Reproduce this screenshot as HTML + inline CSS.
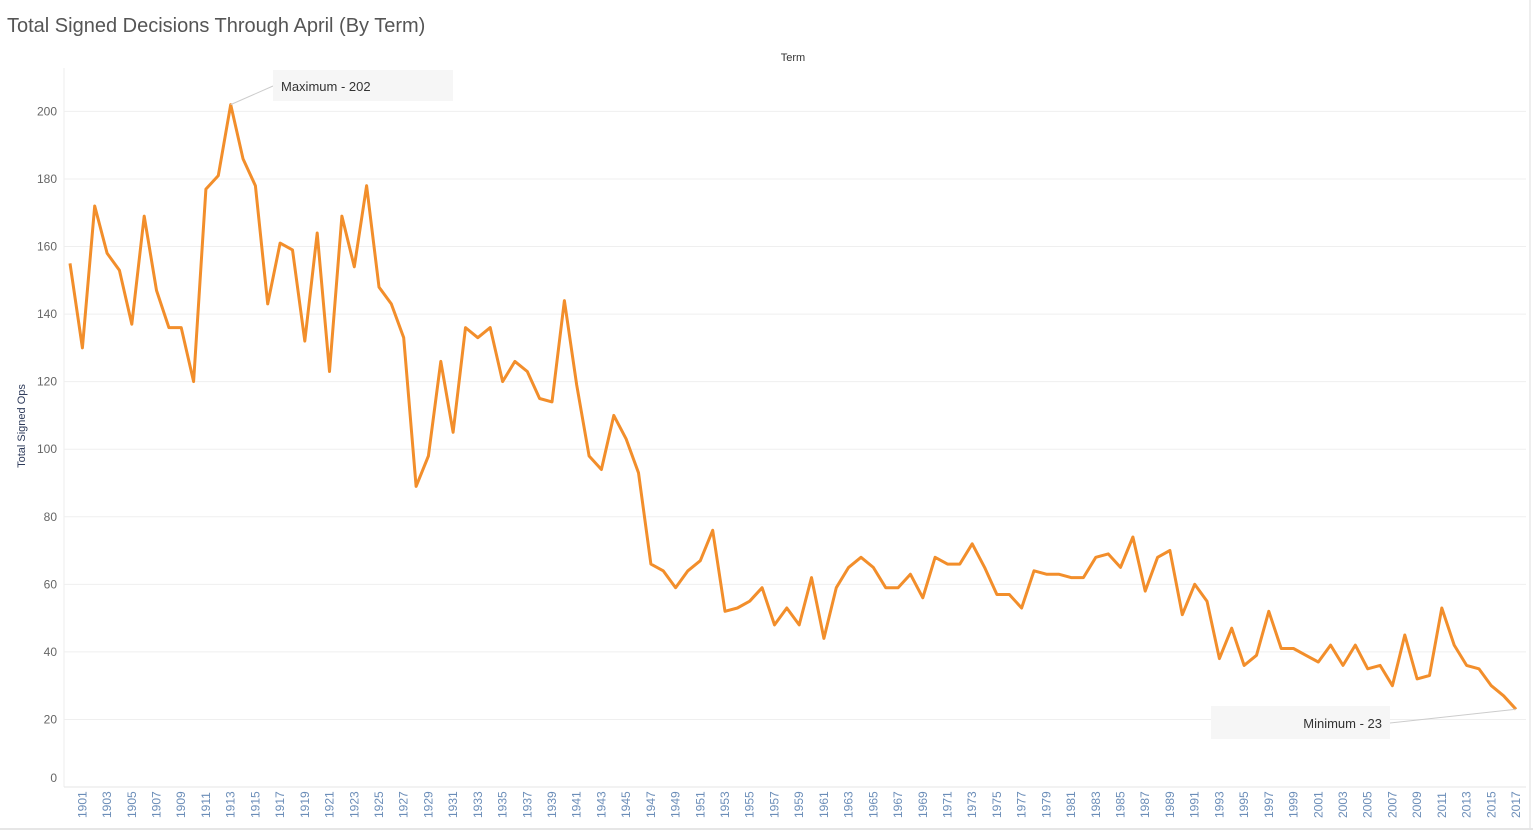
<!DOCTYPE html>
<html><head><meta charset="utf-8"><style>
body{margin:0;background:#fff;font-family:"Liberation Sans",sans-serif;}
#wrap{position:relative;width:1533px;height:831px;overflow:hidden;}
</style></head><body>
<div id="wrap">
<svg id="chart" width="1533" height="831" xmlns="http://www.w3.org/2000/svg">
<text x="7" y="32" font-size="20" fill="#555" font-family="Liberation Sans, sans-serif">Total Signed Decisions Through April (By Term)</text>
<text x="793" y="61" font-size="11" fill="#333" text-anchor="middle">Term</text>
<text transform="translate(25,426) rotate(-90)" font-size="11" fill="#2d3a5a" text-anchor="middle">Total Signed Ops</text>
<line x1="1530" y1="0" x2="1530" y2="828" stroke="#ddd"/>
<line x1="0" y1="829" x2="1533" y2="829" stroke="#ccc"/>
<g id="grid"></g><g id="xt"></g><g id="series"></g><g id="ann"></g>
</svg>
</div>
<script>
const years = [];
for (let y = 1900; y <= 2017; y++) years.push(y);
const values = [155,130,172,158,153,137,169,147,136,136,120,177,181,202,186,178,143,161,159,132,164,123,169,154,178,148,143,133,89,98,126,105,136,133,136,120,126,123,115,114,144,119,98,94,110,103,93,66,64,59,64,67,76,52,53,55,59,48,53,48,62,44,59,65,68,65,59,59,63,56,68,66,66,72,65,57,57,53,64,63,63,62,62,68,69,65,74,58,68,70,51,60,55,38,47,36,39,52,41,41,39,37,42,36,42,35,36,30,45,32,33,53,42,36,35,30,27,23];
const yTicks = [0,20,40,60,80,100,120,140,160,180,200];

const NS = "http://www.w3.org/2000/svg";
const x0 = 70, x1 = 1516, yZero = 787, pxPerUnit = 3.378;
const xs = i => x0 + (x1 - x0) * i / (years.length - 1);
const ys = v => yZero - v * pxPerUnit;
function mk(tag, attrs, parent) { const e = document.createElementNS(NS, tag); for (const k in attrs) e.setAttribute(k, attrs[k]); parent.appendChild(e); return e; }

const grid = document.getElementById('grid');
const ax = mk('line', {x1:64, y1:68, x2:64, y2:787, stroke:'#eee'}, grid);


yTicks.forEach(t => {
  const y = ys(t);
  const gl = mk('line', {x1:64, y1:y, x2:1526, y2:y, stroke:t === 0 ? '#e6e6e6' : '#efefef'}, grid);
  
  
  const lab = mk('text', {x:57, y:(t === 0 ? y - 5 : y + 4), 'font-size':12, fill:'#666', 'text-anchor':'end'}, grid);
  lab.textContent = t;
  
  
});
const xt = document.getElementById('xt');
years.forEach((yr, i) => {
  if (yr % 2 === 0) return;
  const x = xs(i);
  const t = mk('text', {transform:`translate(${x + 4},818) rotate(-90)`, 'font-size':12, fill:'#6b8db8'}, xt);
  t.textContent = yr;
  
  
});
const series = document.getElementById('series');
const pts = values.map((v, i) => xs(i).toFixed(1) + ',' + ys(v).toFixed(1)).join(' ');
const line = mk('polyline', {points:pts, fill:'none', stroke:'#f28e2b', 'stroke-width':3, 'stroke-linejoin':'round'}, series);



const ann = document.getElementById('ann');
let maxI = 0, minI = 0;
values.forEach((v, i) => { if (v > values[maxI]) maxI = i; if (v < values[minI]) minI = i; });
mk('line', {x1:273, y1:86, x2:xs(maxI), y2:ys(values[maxI]), stroke:'#ccc'}, ann);
const mb = mk('rect', {x:273, y:70, width:180, height:31, fill:'#f6f6f6'}, ann);


const mt = mk('text', {x:281, y:91, 'font-size':13, fill:'#333'}, ann);
mt.textContent = 'Maximum - ' + values[maxI];


mk('line', {x1:1390, y1:723, x2:xs(minI), y2:ys(values[minI]), stroke:'#ccc'}, ann);
const nb = mk('rect', {x:1211, y:706, width:179, height:33, fill:'#f6f6f6'}, ann);


const nt = mk('text', {x:1382, y:728, 'font-size':13, fill:'#333', 'text-anchor':'end'}, ann);
nt.textContent = 'Minimum - ' + values[minI];


</script>
</body></html>
